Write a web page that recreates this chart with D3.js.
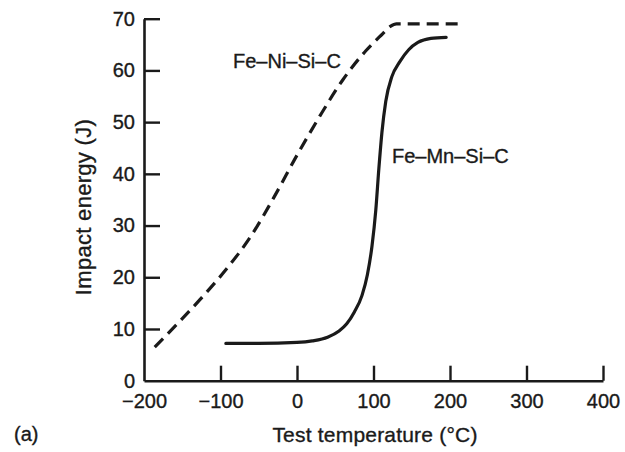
<!DOCTYPE html>
<html>
<head>
<meta charset="utf-8">
<script src="https://cdn.jsdelivr.net/npm/d3@7"></script>
<style>
  html, body { margin: 0; padding: 0; background: #fff; }
  svg { display: block; }
  text { font-family: "Liberation Sans", Arial, Helvetica, sans-serif; fill: #1a1a1a; stroke: #1a1a1a; stroke-width: 0.35px; }
</style>
</head>
<body>
<script>
// ---- data ----
const xTicks = [-200, -100, 0, 100, 200, 300, 400];
const xTickLabels = ["\u2212200", "\u2212100", "0", "100", "200", "300", "400"];
const yTicks = [0, 10, 20, 30, 40, 50, 60, 70];

const niTemp   = [-186, -150, -120, -90, -60, -30, 0, 30, 60, 90, 110, 122, 130, 210];
const niEnergy = [6.5, 12.0, 16.8, 22.0, 28.0, 35.5, 43.6, 51.2, 58.2, 63.8, 66.8, 68.5, 69.0, 69.0];

const mnTemp   = [-93, -50, 0, 20, 40, 55, 65, 75, 85, 92, 98, 103, 107, 111, 116, 124, 134, 146, 158, 175, 195];
const mnEnergy = [7.2, 7.2, 7.4, 7.7, 8.4, 9.6, 11.0, 13.3, 16.5, 20.5, 26.0, 33.0, 41.0, 48.0, 54.0, 58.8, 61.6, 64.0, 65.4, 66.2, 66.4];

const seriesLabels = ["Fe\u2013Ni\u2013Si\u2013C", "Fe\u2013Mn\u2013Si\u2013C"];
const xTitle = "Test temperature (\u00B0C)";
const yTitle = "Impact energy (J)";
const panelLabel = "(a)";

// ---- layout ----
const W = 625, H = 452;
const svg = d3.select("body").append("svg").attr("width", W).attr("height", H);

const x = d3.scaleLinear().domain([-200, 400]).range([144, 603]);
const y = d3.scaleLinear().domain([0, 70]).range([380.7, 18.7]);

const ink = "#1a1a1a";

// axes
const xAxis = d3.axisBottom(x)
  .tickValues(xTicks)
  .tickFormat((d, i) => xTickLabels[i])
  .tickSizeInner(-15).tickSizeOuter(0).tickPadding(13);
const yAxis = d3.axisLeft(y)
  .tickValues(yTicks)
  .tickFormat(d3.format("d"))
  .tickSizeInner(-16).tickSizeOuter(0).tickPadding(9);

const gx = svg.append("g").attr("transform", `translate(0,${y(0)})`).call(xAxis);
const gy = svg.append("g").attr("transform", `translate(${x(-200)},0)`).call(yAxis);

[gx, gy].forEach(g => {
  g.select(".domain").attr("stroke", ink).attr("stroke-width", 2.6);
  g.selectAll(".tick line").attr("stroke", ink).attr("stroke-width", 2.4);
  g.selectAll(".tick text")
    .attr("fill", ink)
    .style("font-size", "20px")
    .style("font-family", "'Liberation Sans', Arial, sans-serif");
});
// hide tick marks that sit on the other axis
gx.selectAll(".tick").filter(d => d === -200).select("line").remove();
gy.selectAll(".tick").filter(d => d === 0).select("line").remove();

// lines
const lineNi = d3.line().x(d => x(d[0])).y(d => y(d[1])).curve(d3.curveMonotoneX);
const lineMn = d3.line().x(d => x(d[0])).y(d => y(d[1])).curve(d3.curveMonotoneX);

const niData = niTemp.map((t, i) => [t, niEnergy[i]]);
const mnData = mnTemp.map((t, i) => [t, mnEnergy[i]]);

svg.append("path").datum(niData)
  .attr("d", lineNi)
  .attr("fill", "none").attr("stroke", ink)
  .attr("stroke-width", 3.2)
  .attr("stroke-dasharray", "12,7");

svg.append("path").datum(mnData)
  .attr("d", lineMn)
  .attr("fill", "none").attr("stroke", ink)
  .attr("stroke-width", 3.2)
  .attr("stroke-linecap", "round");

// series labels
svg.append("text").attr("x", 233).attr("y", 68)
  .style("font-size", "20px").text(seriesLabels[0]);
svg.append("text").attr("x", 392).attr("y", 163)
  .style("font-size", "20px").text(seriesLabels[1]);

// axis titles
svg.append("text")
  .attr("x", 375).attr("y", 442)
  .attr("text-anchor", "middle")
  .style("font-size", "21px").style("letter-spacing", "0.2px")
  .text(xTitle);

svg.append("text")
  .attr("transform", "translate(91,207) rotate(-90)")
  .attr("text-anchor", "middle")
  .style("font-size", "22px").style("letter-spacing", "0.3px")
  .text(yTitle);

svg.append("text")
  .attr("x", 14).attr("y", 441)
  .style("font-size", "20px")
  .text(panelLabel);
</script>
</body>
</html>
